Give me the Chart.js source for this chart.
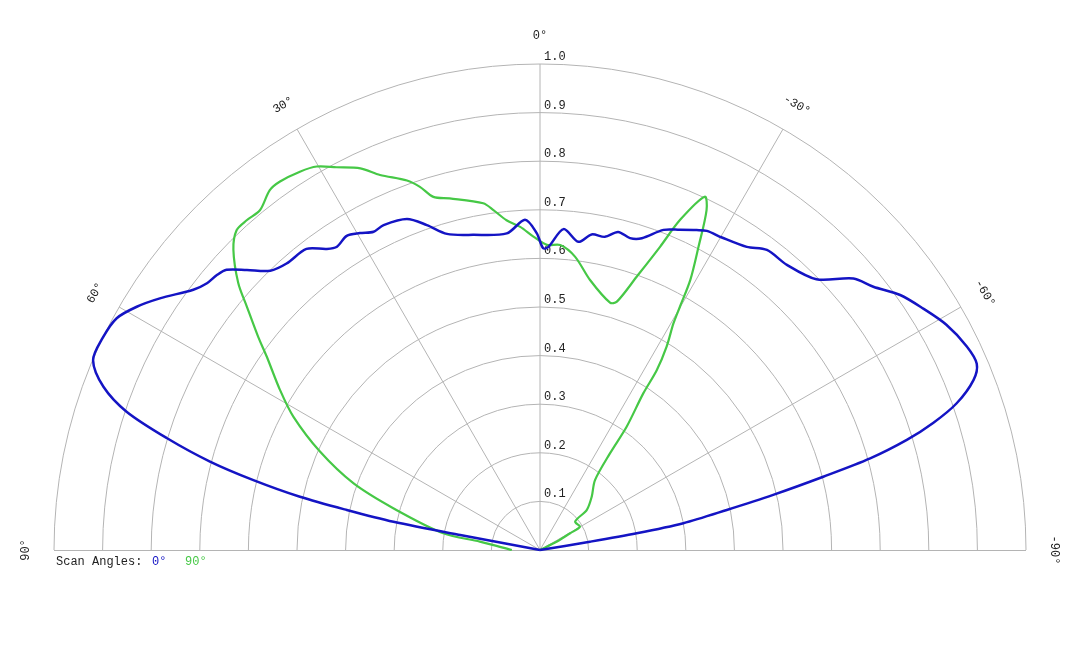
<!DOCTYPE html>
<html>
<head>
<meta charset="utf-8">
<script src="https://cdn.jsdelivr.net/npm/chart.js@4.4.1/dist/chart.umd.min.js"></script>
<style>
  html, body { margin: 0; padding: 0; background: #ffffff; }
  #wrap { width: 1080px; height: 648px; position: relative; }
</style>
</head>
<body>
<div id="wrap"><canvas id="polarChart"></canvas></div>
<script>
// Scan 0° (blue): angle in degrees (positive = left), relative intensity
const scan0Angles = [80, 79.4, 79.1, 78.3, 77.5, 76.3, 75, 73.3, 71.5, 69.5, 67, 64.1, 61.3, 58.9, 56.5, 53.1, 51.3, 49.6, 48.2, 46.3, 44, 41.5, 37.8, 35.3, 33.8, 31.6, 29.6, 27.6, 25.7, 21.9, 19.2, 16.4, 12, 6, 2.6, 0.6, -0.6, -1.6, -4.2, -7.1, -9.3, -11.7, -13.8, -16.1, -18.1, -21.1, -23.6, -26.1, -27.6, -30.2, -34.3, -37.1, -40.9, -45.6, -49.1, -51.7, -54.7, -57.8, -61, -64.5, -66.9, -68.6, -70.6, -72.1, -73.3, -74.5, -75.5, -76.7, -77.9, -79.4, -80.2, -80.6, -81];
const scan0Values = [0, 0.167, 0.307, 0.406, 0.506, 0.607, 0.703, 0.802, 0.897, 0.959, 0.999, 1.0, 0.993, 0.969, 0.938, 0.892, 0.878, 0.873, 0.865, 0.834, 0.799, 0.787, 0.784, 0.759, 0.751, 0.759, 0.75, 0.739, 0.742, 0.734, 0.708, 0.678, 0.663, 0.655, 0.68, 0.652, 0.621, 0.624, 0.662, 0.639, 0.658, 0.658, 0.674, 0.668, 0.675, 0.706, 0.719, 0.733, 0.741, 0.744, 0.755, 0.774, 0.776, 0.796, 0.853, 0.874, 0.908, 0.932, 0.956, 0.973, 0.977, 0.958, 0.909, 0.85, 0.788, 0.705, 0.602, 0.493, 0.393, 0.3, 0.202, 0.104, 0];

// Scan 90° (green)
const scan90Angles = [90, 82.1, 80.2, 74.1, 70.3, 65.9, 61.6, 58.4, 54.7, 52.9, 50.3, 48.5, 45.6, 43.5, 41.6, 39.5, 36.9, 35.2, 32.4, 30.2, 28, 25.2, 23.1, 19.8, 18.3, 16.8, 14.4, 9.3, 7.8, 5.8, 3.5, 1.2, -1.3, -3.8, -6.8, -10.5, -15.8, -17.2, -19.5, -21.6, -23, -25, -26.1, -27.6, -29.1, -29.9, -30.5, -31.9, -33, -33.4, -35.1, -35.9, -38.2, -44.1, -49.4, -51, -59.8, -60.9, -63.6, -90];
const scan90Values = [0.058, 0.125, 0.202, 0.314, 0.408, 0.496, 0.577, 0.628, 0.689, 0.727, 0.784, 0.829, 0.883, 0.907, 0.908, 0.906, 0.926, 0.928, 0.922, 0.913, 0.892, 0.868, 0.839, 0.808, 0.787, 0.759, 0.747, 0.723, 0.706, 0.682, 0.666, 0.645, 0.628, 0.629, 0.608, 0.565, 0.529, 0.535, 0.597, 0.671, 0.738, 0.802, 0.779, 0.704, 0.636, 0.578, 0.541, 0.493, 0.441, 0.386, 0.31, 0.246, 0.183, 0.153, 0.127, 0.093, 0.095, 0.071, 0.038, 0];

// Axis ticks
const ringTicks = [0.1, 0.2, 0.3, 0.4, 0.5, 0.6, 0.7, 0.8, 0.9, 1.0];
const spokeAngles = [60, 30, 0, -30, -60];
const angleLabels = [90, 60, 30, 0, -30, -60, -90];

const BLUE = '#1414c4';
const GREEN = '#46c846';
const GRID = '#b4b4b4';
const MONO = '12px "Liberation Mono", "DejaVu Sans Mono", monospace';

// polar -> cartesian (0° up, positive angles to the left)
function toXY(angles, values) {
    return angles.map((a, i) => {
        const t = a * Math.PI / 180;
        return { x: -values[i] * Math.sin(t), y: values[i] * Math.cos(t) };
    });
}

const polarGrid = {
    id: 'polarGrid',
    beforeDatasetsDraw(chart) {
        const { ctx, scales } = chart;
        const cx = scales.x.getPixelForValue(0);
        const cy = scales.y.getPixelForValue(0);
        const unit = scales.x.getPixelForValue(1) - cx;
        ctx.save();
        ctx.strokeStyle = GRID;
        ctx.lineWidth = 1;

        ringTicks.forEach(v => {
            ctx.beginPath();
            ctx.arc(cx, cy, v * unit, Math.PI, 2 * Math.PI);
            ctx.stroke();
        });

        // baseline
        ctx.beginPath();
        ctx.moveTo(cx - unit, cy + 0.5);
        ctx.lineTo(cx + unit, cy + 0.5);
        ctx.stroke();

        spokeAngles.forEach(a => {
            const t = a * Math.PI / 180;
            ctx.beginPath();
            ctx.moveTo(cx, cy);
            ctx.lineTo(cx - unit * Math.sin(t), cy - unit * Math.cos(t));
            ctx.stroke();
        });

        // ring labels
        ctx.fillStyle = '#222222';
        ctx.font = MONO;
        ctx.textAlign = 'left';
        ctx.textBaseline = 'alphabetic';
        ringTicks.forEach(v => {
            ctx.fillText(v.toFixed(1), cx + 4, cy - v * unit - 4);
        });

        // angle labels
        ctx.textAlign = 'center';
        ctx.textBaseline = 'middle';
        const lr = unit * 1.057;
        angleLabels.forEach(a => {
            const t = a * Math.PI / 180;
            ctx.save();
            ctx.translate(cx - lr * Math.sin(t), cy - lr * Math.cos(t));
            ctx.rotate(-t);
            ctx.fillText(a + '°', 0, 0);
            ctx.restore();
        });
        ctx.restore();
    },
    afterDraw(chart) {
        const { ctx } = chart;
        ctx.save();
        ctx.font = MONO;
        ctx.textAlign = 'left';
        ctx.textBaseline = 'alphabetic';
        ctx.fillStyle = '#222222';
        ctx.fillText('Scan Angles:', 56, 565);
        ctx.fillStyle = BLUE;
        ctx.fillText('0°', 152, 565);
        ctx.fillStyle = GREEN;
        ctx.fillText('90°', 185, 565);
        ctx.restore();
    }
};

new Chart(document.getElementById('polarChart'), {
    type: 'scatter',
    data: {
        datasets: [
            {
                label: '0°',
                data: toXY(scan0Angles, scan0Values),
                showLine: true,
                borderColor: BLUE,
                borderWidth: 2.5,
                pointRadius: 0,
                tension: 0.3,
                clip: false
            },
            {
                label: '90°',
                data: toXY(scan90Angles, scan90Values),
                showLine: true,
                borderColor: GREEN,
                borderWidth: 2.2,
                pointRadius: 0,
                tension: 0.3,
                clip: false
            }
        ]
    },
    options: {
        responsive: true,
        maintainAspectRatio: false,
        animation: false,
        layout: { padding: { left: 54, right: 54, top: 64, bottom: 98 } },
        plugins: {
            legend: { display: false },
            tooltip: { enabled: false }
        },
        scales: {
            x: { type: 'linear', min: -1, max: 1, display: false },
            y: { type: 'linear', min: 0, max: 1, display: false }
        }
    },
    plugins: [polarGrid]
});
</script>
</body>
</html>
